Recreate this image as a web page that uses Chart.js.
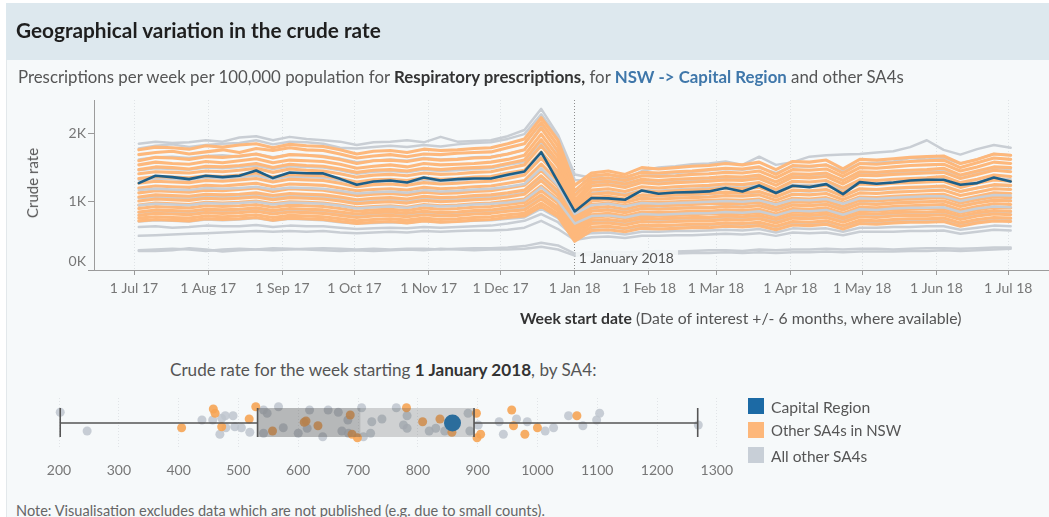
<!DOCTYPE html>
<html><head><meta charset="utf-8">
<script src="https://cdn.jsdelivr.net/npm/chart.js@4.4.1/dist/chart.umd.min.js"></script>
<style>
html,body{margin:0;padding:0;background:#ffffff;}
body{width:1049px;height:517px;position:relative;overflow:hidden;font-family:Lato,'Noto Sans',sans-serif;}
#panel{position:absolute;left:6px;top:3px;right:0;bottom:0;background:#f6f9fa;border-left:1px solid #e3e8eb;}
#header{position:absolute;left:6px;top:3px;right:0;height:57px;background:#dde8ee;}
.t{position:absolute;white-space:nowrap;line-height:1.2;color:#555;}
canvas{position:absolute;}
.sq{position:absolute;width:16px;height:16px;}
</style></head>
<body>
<div id="panel"></div>
<div id="header"></div>
<canvas id="lineChart" width="1049" height="340" style="left:0;top:0;width:1049px;height:340px;"></canvas>
<canvas id="boxChart" width="780" height="110" style="left:0;top:380px;width:780px;height:110px;"></canvas>

<div class="t" data-x="16" data-cy="30" data-w="365" style="font-weight:700;color:#1e1e1e;">Geographical variation in the crude rate</div>
<div class="t" data-x="18" data-cy="77" data-w="887">Prescriptions per week per 100,000 population for <b style="color:#333">Respiratory prescriptions,</b> for <b style="color:#3f77aa">NSW -&gt; Capital Region</b> and other SA4s</div>
<div class="t" id="ytitle" data-rot="1" data-cx="32" data-cy="183" data-w="70">Crude rate</div>
<div class="t" data-x="520" data-cy="318" data-w="442"><b style="color:#333">Week start date</b> (Date of interest +/- 6 months, where available)</div>
<div class="t" data-x="170" data-cy="370" data-w="427">Crude rate for the week starting <b style="color:#333">1 January 2018</b>, by SA4:</div>
<div class="sq" style="left:748px;top:398px;background:#1c6aa5;"></div>
<div class="sq" style="left:748px;top:422px;background:#fdb77a;"></div>
<div class="sq" style="left:748px;top:447px;background:#c8cfd7;"></div>
<div class="t" data-x="771" data-cy="407" data-w="99">Capital Region</div>
<div class="t" data-x="771" data-cy="431" data-w="130">Other SA4s in NSW</div>
<div class="t" data-x="771" data-cy="456" data-w="96">All other SA4s</div>
<div class="t" data-x="16" data-cy="510" data-w="529" style="color:#666">Note: Visualisation excludes data which are not published (e.g. due to small counts).</div>

<script>
// ---------------- DATA ----------------
const firstWeekStart = '2017-07-03';
const axisOriginDate = '2017-07-01';
const dateOfInterest = '2018-01-01';
const dateOfInterestLabel = '1 January 2018';
const monthTickDates = ['2017-07-01','2017-08-01','2017-09-01','2017-10-01','2017-11-01','2017-12-01','2018-01-01','2018-02-01','2018-03-01','2018-04-01','2018-05-01','2018-06-01','2018-07-01'];
const monthTickLabels = ['1 Jul 17','1 Aug 17','1 Sep 17','1 Oct 17','1 Nov 17','1 Dec 17','1 Jan 18','1 Feb 18','1 Mar 18','1 Apr 18','1 May 18','1 Jun 18','1 Jul 18'];
const rateTickValues = [0, 1000, 2000];
const rateTickLabels = ['0K', '1K', '2K'];

// Capital Region weekly crude rate
const capitalRegion = [1273,1380,1360,1331,1380,1360,1380,1457,1346,1428,1418,1415,1335,1248,1297,1311,1282,1355,1311,1331,1341,1341,
1394,1443,1725,1292,858,
1054,1049,1029,1165,1117,1136,1141,1151,1200,1151,1238,1127,1234,1214,1258,1112,1287,1263,1282,1311,1321,1321,1248,1273,1355,1297];

// Other SA4s in NSW
const nsw01 = [1760,1800,1790,1770,1820,1800,1830,1850,1790,1840,1820,1810,1760,1700,1740,1750,1720,1770,1750,1760,1780,1790,
1850,1920,2230,1900,1240,
1420,1450,1400,1500,1480,1500,1520,1530,1560,1540,1580,1470,1590,1580,1610,1480,1620,1610,1630,1650,1660,1670,1560,1620,1700,1680];
const nsw02 = [1690,1720,1740,1700,1730,1760,1720,1780,1750,1790,1760,1750,1700,1640,1670,1690,1660,1700,1690,1710,1720,1730,
1790,1850,2160,1820,1160,
1380,1400,1360,1430,1420,1440,1450,1470,1490,1480,1510,1400,1530,1520,1540,1420,1560,1550,1570,1590,1600,1610,1500,1570,1640,1620];
const nsw03 = [1600,1650,1640,1620,1660,1650,1670,1700,1640,1690,1680,1660,1620,1560,1600,1610,1590,1630,1610,1620,1640,1650,
1700,1760,2080,1740,1090,
1330,1350,1310,1380,1370,1380,1400,1410,1430,1420,1450,1350,1470,1460,1480,1370,1500,1490,1510,1530,1540,1550,1450,1510,1580,1560];
const nsw04 = [1540,1580,1560,1550,1590,1570,1600,1630,1570,1610,1600,1590,1550,1490,1520,1540,1510,1560,1540,1550,1560,1580,
1620,1680,1990,1660,1020,
1280,1300,1260,1330,1310,1330,1340,1350,1370,1360,1390,1290,1410,1400,1420,1310,1440,1430,1450,1460,1470,1490,1390,1450,1510,1500];
const nsw05 = [1470,1510,1500,1480,1520,1510,1530,1560,1500,1550,1530,1520,1480,1430,1460,1470,1450,1490,1470,1490,1500,1510,
1560,1610,1910,1590,970,
1230,1250,1210,1280,1260,1280,1290,1300,1320,1310,1340,1240,1360,1350,1370,1260,1390,1380,1400,1410,1420,1430,1340,1400,1460,1440];
const nsw06 = [1410,1440,1430,1420,1450,1440,1460,1490,1430,1480,1460,1450,1410,1360,1390,1400,1380,1420,1400,1410,1430,1440,
1490,1540,1820,1520,920,
1170,1190,1150,1220,1200,1220,1230,1240,1260,1250,1280,1180,1300,1290,1310,1200,1320,1310,1330,1340,1350,1370,1280,1330,1390,1370];
const nsw07 = [1340,1370,1360,1350,1380,1370,1390,1420,1360,1400,1390,1380,1340,1290,1320,1330,1310,1350,1330,1340,1360,1370,
1420,1460,1730,1440,870,
1110,1130,1090,1160,1140,1160,1170,1180,1200,1190,1210,1120,1230,1220,1240,1140,1260,1250,1270,1280,1290,1300,1210,1270,1320,1300];
const nsw08 = [1270,1300,1290,1280,1310,1300,1320,1340,1290,1330,1320,1310,1270,1220,1250,1260,1240,1280,1260,1270,1290,1300,
1340,1390,1640,1370,820,
1060,1080,1040,1100,1090,1100,1110,1120,1140,1130,1150,1070,1170,1160,1180,1080,1190,1180,1200,1210,1220,1230,1150,1200,1250,1240];
const nsw09 = [1200,1230,1220,1210,1240,1230,1250,1270,1220,1260,1250,1240,1200,1160,1180,1190,1170,1210,1190,1200,1220,1230,
1270,1310,1550,1300,780,
1010,1030,990,1050,1040,1050,1060,1070,1090,1080,1100,1020,1110,1100,1120,1030,1130,1120,1140,1150,1160,1170,1090,1140,1190,1180];
const nsw10 = [1130,1160,1150,1140,1170,1160,1180,1200,1150,1190,1180,1170,1130,1090,1110,1120,1100,1140,1120,1130,1150,1160,
1200,1240,1460,1220,740,
960,980,940,1000,990,1000,1010,1020,1030,1020,1040,970,1050,1040,1060,980,1070,1060,1080,1090,1100,1110,1030,1080,1130,1120];
const nsw11 = [1070,1100,1090,1080,1110,1100,1110,1130,1090,1120,1110,1100,1070,1030,1050,1060,1040,1080,1060,1070,1090,1100,
1130,1170,1380,1160,700,
910,930,890,950,940,950,960,970,980,970,990,920,1000,990,1010,930,1020,1010,1030,1040,1050,1060,980,1030,1070,1060];
const nsw12 = [1010,1040,1030,1020,1050,1040,1050,1070,1030,1060,1050,1040,1010,970,990,1000,980,1020,1000,1010,1030,1040,
1070,1110,1310,1090,650,
860,880,840,900,890,900,910,910,930,920,940,870,950,940,960,880,970,960,980,990,1000,1010,930,980,1020,1010];
const nsw13 = [950,980,970,960,990,980,990,1010,970,1000,990,980,950,910,930,940,920,960,940,950,970,980,
1010,1040,1230,1030,610,
810,830,790,850,840,850,860,860,880,870,890,820,900,890,910,830,920,910,930,940,950,960,880,930,970,960];
const nsw14 = [900,930,920,910,940,930,940,960,920,950,940,930,900,860,880,890,870,910,890,900,920,930,
960,990,1160,980,570,
770,790,750,800,790,800,810,820,830,820,840,780,850,840,860,790,870,860,880,890,900,900,830,880,920,910];
const nsw15 = [850,880,870,860,890,880,890,910,870,900,890,880,850,820,840,850,830,860,840,850,870,880,
910,940,1100,920,540,
730,740,710,760,750,760,770,770,790,780,800,740,810,800,820,750,830,820,840,850,850,860,790,840,870,860];
const nsw16 = [800,830,820,810,840,830,840,860,820,850,840,830,800,770,790,800,780,810,790,800,820,830,
860,880,1040,870,500,
680,690,660,710,700,710,720,720,740,730,750,690,760,750,770,700,780,770,790,800,800,810,740,790,820,810];
const nsw17 = [760,780,770,760,790,780,790,810,770,800,790,780,750,720,740,750,730,760,740,750,770,780,
810,830,980,820,460,
630,640,610,660,650,660,670,670,690,680,700,640,710,700,720,650,730,720,740,750,750,760,690,740,770,760];
const nsw18 = [720,740,730,720,750,740,750,770,730,760,750,740,710,680,700,710,690,720,700,710,730,740,
770,790,930,780,420,
580,590,560,610,600,610,620,620,640,630,650,590,660,650,670,600,680,670,690,700,700,710,640,690,720,710];

// All other SA4s
const oth01 = [1850,1880,1860,1870,1900,1880,1940,1960,1900,1950,1920,1900,1880,1830,1870,1880,1900,1870,1950,1880,1890,1900,
1960,2050,2360,1980,1400,
1350,1400,1330,1450,1500,1520,1550,1560,1590,1540,1660,1540,1580,1660,1680,1690,1700,1720,1740,1800,1900,1760,1690,1770,1830,1790];
const oth02 = [1780,1820,1840,1800,1830,1850,1860,1900,1840,1880,1870,1850,1790,1780,1800,1820,1800,1830,1810,1840,1860,1870,
1920,1990,2280,1940,1320,
1300,1330,1290,1380,1400,1420,1440,1460,1480,1470,1500,1420,1520,1510,1540,1450,1560,1570,1590,1640,1620,1640,1560,1620,1700,1680];
const oth03 = [1620,1650,1660,1640,1670,1680,1660,1700,1650,1690,1680,1670,1630,1580,1600,1620,1600,1640,1620,1630,1650,1660,
1700,1760,2100,1720,1150,
1240,1270,1230,1300,1290,1310,1320,1330,1350,1340,1370,1290,1390,1380,1400,1320,1420,1410,1430,1440,1450,1460,1380,1430,1490,1480];
const oth04 = [1460,1490,1480,1470,1500,1490,1510,1530,1480,1520,1510,1500,1460,1410,1440,1450,1430,1470,1450,1460,1480,1490,
1540,1580,1870,1560,1000,
1130,1150,1110,1170,1160,1180,1190,1200,1220,1210,1240,1160,1250,1240,1260,1180,1280,1270,1290,1300,1310,1320,1240,1290,1340,1330];
const oth05 = [1320,1340,1330,1320,1350,1340,1360,1380,1330,1370,1360,1350,1310,1270,1290,1300,1280,1320,1300,1310,1330,1340,
1380,1420,1680,1400,920,
1050,1070,1030,1090,1080,1090,1100,1110,1130,1120,1140,1070,1160,1150,1170,1090,1180,1170,1190,1200,1210,1220,1150,1200,1240,1230];
const oth06 = [1170,1190,1180,1170,1200,1190,1200,1220,1180,1210,1200,1190,1160,1120,1140,1150,1130,1170,1150,1160,1180,1190,
1220,1260,1490,1240,820,
950,970,930,980,970,980,990,1000,1010,1000,1020,960,1030,1020,1040,970,1050,1040,1060,1070,1080,1080,1010,1060,1100,1090];
const oth07 = [1050,1070,1060,1050,1080,1070,1080,1100,1060,1090,1080,1070,1040,1000,1020,1030,1010,1050,1030,1040,1060,1070,
1090,1130,1340,1110,740,
880,890,860,910,900,910,920,920,940,930,950,890,960,950,970,900,980,970,990,1000,1000,1010,940,990,1030,1020];
const oth08 = [950,970,960,950,980,970,980,1000,960,990,980,970,940,900,920,930,910,950,930,940,960,970,
990,1020,1210,1010,680,
790,800,770,820,810,820,830,830,850,840,860,800,870,860,880,810,890,880,900,910,910,920,850,900,930,920];
const oth09 = [840,860,850,840,870,860,870,890,850,880,870,860,830,800,820,830,810,840,820,830,850,860,
880,910,1080,900,600,
710,720,690,740,730,740,750,750,770,760,780,720,790,780,800,730,810,800,820,830,830,840,770,820,850,840];
const oth10 = [710,730,720,710,740,730,740,760,720,750,740,730,700,680,690,700,690,720,700,710,720,730,
750,770,900,760,520,
620,630,600,640,640,650,650,660,670,660,680,630,690,680,700,640,700,700,710,720,720,730,670,710,740,730];
const oth11 = [630,640,620,630,650,640,640,660,630,650,640,640,620,600,610,620,610,630,620,630,640,650,
680,720,820,700,480,
540,550,520,560,560,570,570,580,590,580,600,550,610,600,610,560,620,620,630,630,640,640,590,620,650,640];
const oth12 = [500,510,520,530,540,550,560,570,560,570,560,570,550,540,550,560,550,570,560,570,580,580,
590,620,720,600,440,
480,490,470,500,500,510,510,520,530,520,540,500,550,540,550,510,560,560,560,570,570,580,530,560,590,580];
const oth13 = [290,300,310,300,280,300,310,300,290,300,310,320,310,300,310,300,310,310,300,310,320,320,
330,350,400,360,240,
260,270,260,270,280,270,280,290,290,280,300,290,300,300,310,300,310,310,300,310,320,320,310,320,330,330];
const oth14 = [280,280,290,320,300,270,290,300,320,310,300,290,280,290,280,290,300,290,310,300,290,300,
300,310,340,300,210,
220,230,220,230,240,240,250,250,260,250,260,250,260,260,270,260,270,270,270,280,280,290,280,290,300,310];

const nswSeries = [nsw01,nsw02,nsw03,nsw04,nsw05,nsw06,nsw07,nsw08,nsw09,nsw10,nsw11,nsw12,nsw13,nsw14,nsw15,nsw16,nsw17,nsw18];
const otherSeries = [oth01,oth02,oth03,oth04,oth05,oth06,oth07,oth08,oth09,oth10,oth11,oth12,oth13,oth14];
const otherSeriesDrawnOverNsw = [oth06, oth08];

// Week of 1 January 2018, by SA4
const boxStats = [202, 532, 704, 894, 1268]; // min, q1, median, q3, max
const rateAxisTicks = [200,300,400,500,600,700,800,900,1000,1100,1200,1300];
const otherPointValues = [202,247,439,457,472,478,479,469,491,494,505,519,542,548,542,567,575,600,619,615,650,641,667,673,683,684,706,709,723,721,740,764,782,776,782,819,830,845,884,887,901,936,943,965,983,1013,1027,1052,1076,1099,1104,1269];
const otherPointJitter = [10.7,-8,3,3,4.7,7.3,-4.7,-11.3,7.3,-3.7,-4.7,-9.3,13,9.7,-10.3,16.3,-4.7,-10.3,13,-5.3,13,-13.7,10.7,-8,3,-10.3,15.3,-13.7,1.3,-10.3,4,15.3,7.3,-2,-5.3,-8,-5.3,-8,9.7,-8,-2,1.3,-11.3,4,1.3,-8,-4.7,7.3,-2.7,3,9.7,-2];
const nswPointValues = [405,458,461,472,518,529,557,610,613,633,687,690,699,781,808,837,857,898,899,905,957,960,979,1000,1066];
const nswPointJitter = [-4.7,14,9.7,-3.7,4,16.3,-8,0.7,2,-2.7,8,-11.3,-14.7,15.3,1.3,4,-9.3,9.7,-14.7,-11.3,13,-2.7,-11.3,-4.7,7.3];
const capitalPointJitter = 0;

// ---------------- TEXT LAYOUT ----------------
function layoutText(){
  document.querySelectorAll('.t').forEach(el=>{
    const w = +el.dataset.w;
    el.style.fontSize = '20px';
    const cw = el.offsetWidth;
    el.style.fontSize = (20*w/cw)+'px';
    const h = el.offsetHeight, ww = el.offsetWidth;
    if (el.dataset.rot){
      el.style.left = (+el.dataset.cx - ww/2)+'px';
      el.style.top = (+el.dataset.cy - h/2)+'px';
      el.style.transform = 'rotate(-90deg)';
    } else {
      el.style.left = el.dataset.x+'px';
      el.style.top = (+el.dataset.cy - h/2)+'px';
    }
  });
}
layoutText();

// ---------------- CHARTS ----------------
Chart.defaults.font.family = 'Lato, "Noto Sans", sans-serif';
Chart.defaults.color = '#777';

const DAY = 86400000;
const dayOf = s => (Date.parse(s) - Date.parse(axisOriginDate)) / DAY;
const weekDays = capitalRegion.map((_, k) => dayOf(firstWeekStart) + 7 * k);
const monthTickDays = monthTickDates.map(dayOf);
const doiDay = dayOf(dateOfInterest);
const toXY = arr => arr.map((v, k) => ({x: weekDays[k], y: v}));

const lineDatasets = [
  {label:'Capital Region', data: toXY(capitalRegion), borderColor:'#1d5f88', borderWidth:2.6, order:0}
].concat(
  nswSeries.map((s,i)=>({label:'NSW '+(i+1), data: toXY(s), borderColor:'#fdb87c', borderWidth:3.1, order:2})),
  otherSeries.map((s,i)=>({label:'Other '+(i+1), data: toXY(s), borderColor:'#c9ced4', borderWidth:2.5,
    order: otherSeriesDrawnOverNsw.includes(s) ? 1 : 3}))
);

const doiLabelPlugin = {
  id:'doiLabel',
  afterDatasetsDraw(chart){
    const {ctx, scales:{x}, chartArea} = chart;
    const px = x.getPixelForValue(doiDay);
    ctx.save();
    ctx.font = '14px Lato, "Noto Sans", sans-serif';
    const w = ctx.measureText(dateOfInterestLabel).width;
    ctx.fillStyle = 'rgba(246,249,250,0.85)';
    ctx.fillRect(px + 1, chartArea.bottom - 21, w + 7, 18);
    ctx.fillStyle = '#555';
    ctx.textBaseline = 'middle';
    ctx.fillText(dateOfInterestLabel, px + 4, chartArea.bottom - 12);
    ctx.restore();
  }
};

new Chart(document.getElementById('lineChart'), {
  type:'line',
  data:{datasets: lineDatasets},
  options:{
    responsive:false, animation:false, devicePixelRatio:1,
    layout:{padding:{top:100,left:0,right:0,bottom:0}},
    plugins:{legend:{display:false}, tooltip:{enabled:false}},
    elements:{point:{radius:0}, line:{tension:0, borderJoinStyle:'round', borderCapStyle:'round'}},
    scales:{
      x:{type:'linear', min:-16.7, max:382,
        afterBuildTicks: s => { s.ticks = monthTickDays.map(v => ({value:v})); },
        afterFit: s => { s.height = 70; },
        ticks:{callback:(v,i)=>monthTickLabels[i], font:{size:14}, color:'#777', padding:5, maxRotation:0, autoSkip:false},
        grid:{color: c => (c.tick && c.tick.value === doiDay) ? '#8f8f8f' : '#dfe3e6', lineWidth:1, tickLength:5, tickColor:'#999'},
        border:{color:'#9c9c9c', width:1, dash:[1,2]}
      },
      y:{min:0, max:2490,
        afterBuildTicks: s => { s.ticks = rateTickValues.map(v => ({value:v})); },
        afterFit: s => { s.width = 94; },
        ticks:{callback:(v)=>{ const i = rateTickValues.indexOf(v); return i === 0 ? [rateTickLabels[i], ''] : rateTickLabels[i]; }, font:{size:14}, color:'#777', padding:2},
        grid:{drawOnChartArea:false, tickLength:6, tickColor:'#999'},
        border:{color:'#9c9c9c', width:1}
      }
    }
  },
  plugins:[doiLabelPlugin]
});

// box plot chart
const [bMin, bQ1, bMed, bQ3, bMax] = boxStats;
const boxTop = 15, boxBottom = -14;
const capitalValueAtDoi = capitalRegion[weekDays.indexOf(doiDay)];
const seg = (a, b) => ({data:[a, b], showLine:true, pointRadius:0, borderColor:'#555', borderWidth:1.6, order:2});
const boxDatasets = [
  {label:'Capital Region', data:[{x:capitalValueAtDoi, y:capitalPointJitter}], pointRadius:8.5, backgroundColor:'#2b6d9c', borderWidth:0, order:0},
  seg({x:bMin,y:0},{x:bQ1,y:0}),
  seg({x:bQ3,y:0},{x:bMax,y:0}),
  seg({x:bMin,y:boxTop},{x:bMin,y:boxBottom}),
  seg({x:bMax,y:boxTop},{x:bMax,y:boxBottom}),
  seg({x:bQ1,y:boxTop},{x:bQ1,y:boxBottom}),
  seg({x:bQ3,y:boxTop},{x:bQ3,y:boxBottom}),
  {label:'Other SA4s in NSW', data: nswPointValues.map((v,i)=>({x:v, y:nswPointJitter[i]})), pointRadius:4.5, backgroundColor:'rgba(246,164,84,0.9)', borderWidth:0, order:5},
  {label:'All other SA4s', data: otherPointValues.map((v,i)=>({x:v, y:otherPointJitter[i]})), pointRadius:4.5, backgroundColor:'rgba(190,197,206,0.85)', borderWidth:0, order:6}
];
const NSW_POINTS_INDEX = 7;

const boxPlugin = {
  id:'boxFill',
  afterDatasetDraw(chart, args){
    if (args.index !== NSW_POINTS_INDEX) return;
    const {ctx, scales:{x, y}} = chart;
    const yt = y.getPixelForValue(boxTop), yb = y.getPixelForValue(boxBottom);
    ctx.save();
    ctx.fillStyle = 'rgba(70,70,70,0.36)';
    ctx.fillRect(x.getPixelForValue(bQ1), yt, x.getPixelForValue(bMed) - x.getPixelForValue(bQ1), yb - yt);
    ctx.fillStyle = 'rgba(70,70,70,0.22)';
    ctx.fillRect(x.getPixelForValue(bMed), yt, x.getPixelForValue(bQ3) - x.getPixelForValue(bMed), yb - yt);
    ctx.restore();
  }
};

new Chart(document.getElementById('boxChart'), {
  type:'scatter',
  data:{datasets: boxDatasets},
  options:{
    responsive:false, animation:false, devicePixelRatio:1,
    layout:{padding:{left:40,right:50,top:18,bottom:0}},
    plugins:{legend:{display:false}, tooltip:{enabled:false}},
    scales:{
      x:{type:'linear', min:168.2, max:1322,
        afterBuildTicks: s => { s.ticks = rateAxisTicks.map(v => ({value:v})); },
        afterFit: s => { s.height = 42; },
        ticks:{font:{size:14}, color:'#777', padding:14, callback:v=>String(v), maxRotation:0, autoSkip:false},
        grid:{color:'#e1e4e7', drawTicks:false, lineWidth:1},
        border:{display:false, dash:[1,2]}
      },
      y:{display:false, min:-25, max:25}
    }
  },
  plugins:[boxPlugin]
});
</script>
</body></html>
